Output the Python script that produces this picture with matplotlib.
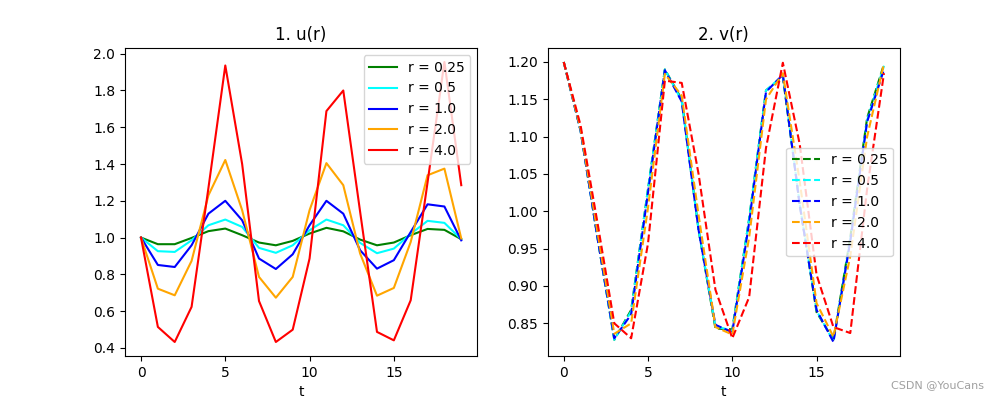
import numpy as np
import matplotlib
matplotlib.use("Agg")
import matplotlib.pyplot as plt

# ---------- data ----------
t = np.arange(20)
r_values = [0.25, 0.5, 1.0, 2.0, 4.0]
colors = ["green", "cyan", "blue", "orange", "red"]

u_r025 = [1.00, 0.964, 0.964, 0.998, 1.035, 1.049, 1.013, 0.973, 0.958, 0.982,
          1.022, 1.053, 1.034, 0.989, 0.958, 0.973, 1.013, 1.047, 1.042, 0.991]
u_r05 = [1.00, 0.926, 0.922, 0.985, 1.067, 1.098, 1.058, 0.944, 0.917, 0.958,
         1.040, 1.098, 1.067, 0.971, 0.915, 0.940, 1.020, 1.091, 1.080, 0.991]
u_r1 = [1.00, 0.851, 0.840, 0.958, 1.130, 1.200, 1.094, 0.886, 0.829, 0.909,
        1.067, 1.200, 1.130, 0.931, 0.831, 0.877, 1.030, 1.181, 1.169, 0.985]
u_r2 = [1.00, 0.722, 0.686, 0.873, 1.230, 1.422, 1.149, 0.786, 0.673, 0.786,
        1.149, 1.405, 1.285, 0.913, 0.684, 0.726, 0.976, 1.339, 1.375, 0.995]
u_r4 = [1.00, 0.514, 0.432, 0.623, 1.270, 1.936, 1.400, 0.655, 0.432, 0.499,
        0.886, 1.688, 1.800, 1.140, 0.487, 0.441, 0.659, 1.300, 1.955, 1.285]

v_r025 = [1.20, 1.108, 0.965, 0.828, 0.868, 1.030, 1.190, 1.150, 0.975, 0.843,
          0.842, 0.990, 1.162, 1.180, 1.010, 0.865, 0.828, 0.965, 1.125, 1.197]
v_r05 = [1.20, 1.108, 0.965, 0.828, 0.866, 1.030, 1.190, 1.148, 0.975, 0.846,
         0.840, 0.990, 1.162, 1.182, 1.010, 0.867, 0.826, 0.962, 1.122, 1.195]
v_r1 = [1.20, 1.108, 0.965, 0.830, 0.862, 1.025, 1.189, 1.147, 0.975, 0.848,
        0.838, 0.985, 1.160, 1.183, 1.008, 0.868, 0.825, 0.960, 1.120, 1.190]
v_r2 = [1.20, 1.110, 0.972, 0.836, 0.850, 1.005, 1.184, 1.155, 0.995, 0.845,
        0.835, 0.965, 1.150, 1.185, 1.040, 0.877, 0.832, 0.940, 1.100, 1.198]
v_r4 = [1.20, 1.115, 0.985, 0.850, 0.830, 0.957, 1.175, 1.172, 1.050, 0.895,
        0.830, 0.885, 1.085, 1.199, 1.090, 0.915, 0.845, 0.837, 1.030, 1.185]

u_series = [u_r025, u_r05, u_r1, u_r2, u_r4]
v_series = [v_r025, v_r05, v_r1, v_r2, v_r4]

fig, (ax1, ax2) = plt.subplots(1, 2, figsize=(10, 4), dpi=100)

for r, c, u in zip(r_values, colors, u_series):
    ax1.plot(t, u, "-", color=c, label=f"r = {r}")
ax1.set_title("1. u(r)")
ax1.set_xlabel("t")
ax1.legend(loc="upper right")

for r, c, v in zip(r_values, colors, v_series):
    ax2.plot(t, v, "--", color=c, label=f"r = {r}")
ax2.set_title("2. v(r)")
ax2.set_xlabel("t")
ax2.legend(loc="center right")

# watermark in the bottom right corner
fig.text(0.984, 0.025, "CSDN @YouCans", ha="right", va="bottom",
         fontsize=8, color="#a0a0a0")

plt.savefig("out.png")
plt.close()
